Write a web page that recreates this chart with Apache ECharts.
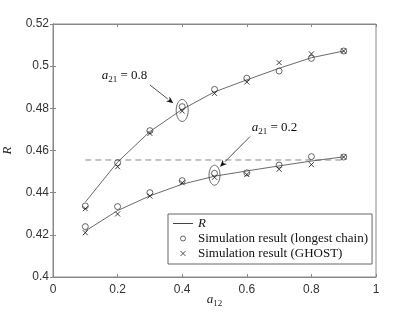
<!DOCTYPE html>
<html><head><meta charset="utf-8">
<script src="https://cdn.jsdelivr.net/npm/echarts@6/dist/echarts.min.js"></script>
<style>html,body{margin:0;padding:0;background:#fff}#c{width:415px;height:312px}</style>
</head><body><div id="c"></div>
<script>
const xVals = [0.1, 0.2, 0.3, 0.4, 0.5, 0.6, 0.7, 0.8, 0.9];
const rHigh = [0.4355, 0.4545, 0.4690, 0.4795, 0.4878, 0.4935, 0.4990, 0.5040, 0.5072];
const longestHigh = [0.4337, 0.4542, 0.4694, 0.4808, 0.4890, 0.4943, 0.4977, 0.5037, 0.5072];
const ghostHigh = [0.4324, 0.4523, 0.4681, 0.4787, 0.4871, 0.4925, 0.5017, 0.5058, 0.5072];
const rLow = [0.4218, 0.4315, 0.4385, 0.4440, 0.4478, 0.4503, 0.4527, 0.4550, 0.4570];
const longestLow = [0.4239, 0.4334, 0.4400, 0.4457, 0.4492, 0.4494, 0.4531, 0.4571, 0.4569];
const ghostLow = [0.4210, 0.4299, 0.4384, 0.4447, 0.4473, 0.4486, 0.4511, 0.4533, 0.4569];
const thresholdX = [0.1, 0.9];
const thresholdY = 0.4555;
const xTicks = { min: 0, max: 1, interval: 0.2 };
const yTicks = { min: 0.4, max: 0.52, interval: 0.02 };
const seriesNames = ['R', 'Simulation result (longest chain)', 'Simulation result (GHOST)'];
// annotations (data space): label, text left anchor, arrow start, arrow end, ellipse centre
const annLabels = ['0.8', '0.2'];
const annText = [[0.151, 0.4950], [0.615, 0.4705]];
const annArrowFrom = [[0.300, 0.4911], [0.610, 0.4666]];
const annArrowTo = [[0.3724, 0.4824], [0.517, 0.4523]];
const annEllipse = [[0.4, 0.4790], [0.5, 0.4483]];

const serif = '"Liberation Serif", "DejaVu Serif", serif';
const sans = '"Liberation Sans", Arial, sans-serif';
const pairs = (xs, ys) => xs.map((x, i) => [x, ys[i]]);
const crossPath = 'path://M0,0L10,10M10,0L0,10';

const chart = echarts.init(document.getElementById('c'), null, { renderer: 'canvas' });
const lineColor = '#444';
const markColor = '#111';

const option = {
  animation: false,
  backgroundColor: '#fff',
  grid: { left: 53, right: 39, top: 24, bottom: 35, containLabel: false, outerBoundsMode: 'none',
    show: true, borderColor: '#888', borderWidth: 1, backgroundColor: 'transparent' },
  legend: {
    data: [
      { name: seriesNames[0], icon: 'path://M0,0L20,0L20,1L0,1Z', itemStyle: { color: lineColor, borderWidth: 0 } },
      { name: seriesNames[1], itemStyle: { borderWidth: 0.8 } },
      { name: seriesNames[2], itemStyle: { borderWidth: 0.9 } }
    ],
    orient: 'vertical', left: 168, top: 214,
    padding: [2, 4, 3, 5], itemGap: 0, itemWidth: 20, itemHeight: 5,
    borderColor: '#666', borderWidth: 1, borderRadius: 0, backgroundColor: '#fff',
    selectedMode: false,
    formatter: n => n === 'R' ? '{i|R}' : n,
    textStyle: { fontFamily: serif, fontSize: 13, color: '#111', lineHeight: 15,
      rich: { i: { fontFamily: serif, fontSize: 13, fontStyle: 'italic', color: '#111', lineHeight: 15 } } }
  },
  xAxis: [{
    type: 'value', min: xTicks.min, max: xTicks.max, interval: xTicks.interval,
    name: '{a|a}{s|12}', nameLocation: 'middle', nameGap: 16, nameMoveOverlap: false,
    nameTextStyle: { rich: {
      a: { fontFamily: serif, fontStyle: 'italic', fontSize: 13, color: '#222', verticalAlign: 'top' },
      s: { fontFamily: serif, fontSize: 9, color: '#222', verticalAlign: 'top', padding: [6, 0, 0, 0] } } },
    axisLine: { show: true, onZero: false, lineStyle: { color: '#888' } },
    axisTick: { show: true, inside: true, length: 3, lineStyle: { color: '#888' } },
    axisLabel: { fontFamily: sans, fontSize: 12, color: '#333', margin: 7 },
    splitLine: { show: false }
  }, {
    type: 'value', position: 'top', min: xTicks.min, max: xTicks.max, interval: xTicks.interval,
    axisLine: { show: true, lineStyle: { color: '#888' } },
    axisTick: { show: true, inside: true, length: 3, lineStyle: { color: '#888' } },
    axisLabel: { show: false }, splitLine: { show: false }
  }],
  yAxis: [{
    type: 'value', min: yTicks.min, max: yTicks.max, interval: yTicks.interval,
    name: 'R', nameLocation: 'middle', nameGap: 39, nameRotate: 90, nameMoveOverlap: false,
    nameTextStyle: { fontFamily: serif, fontStyle: 'italic', fontSize: 13, color: '#222' },
    axisLine: { show: true, onZero: false, lineStyle: { color: '#888' } },
    axisTick: { show: true, inside: true, length: 3, lineStyle: { color: '#888' } },
    axisLabel: { fontFamily: sans, fontSize: 12, color: '#333', margin: 4 },
    splitLine: { show: false }
  }, {
    type: 'value', position: 'right', min: yTicks.min, max: yTicks.max, interval: yTicks.interval,
    axisLine: { show: true, lineStyle: { color: '#888' } },
    axisTick: { show: true, inside: true, length: 3, lineStyle: { color: '#888' } },
    axisLabel: { show: false }, splitLine: { show: false }
  }],
  series: [
    { name: 'threshold', type: 'line', data: pairs(thresholdX, [thresholdY, thresholdY]), symbol: 'none',
      lineStyle: { color: '#888', width: 1, type: [6, 4] }, z: 1 },
    { name: 'R', type: 'line', data: pairs(xVals, rHigh), symbol: 'none', lineStyle: { color: lineColor, width: 0.8 }, itemStyle: { color: lineColor } },
    { name: 'R', type: 'line', data: pairs(xVals, rLow), symbol: 'none', lineStyle: { color: lineColor, width: 0.8 }, itemStyle: { color: lineColor } },
    { name: seriesNames[1], type: 'scatter', data: pairs(xVals, longestHigh), symbol: 'circle', symbolSize: 6,
      itemStyle: { color: 'rgba(0,0,0,0)', borderColor: markColor, borderWidth: 0.8 } },
    { name: seriesNames[1], type: 'scatter', data: pairs(xVals, longestLow), symbol: 'circle', symbolSize: 6,
      itemStyle: { color: 'rgba(0,0,0,0)', borderColor: markColor, borderWidth: 0.8 } },
    { name: seriesNames[2], type: 'scatter', data: pairs(xVals, ghostHigh), symbol: crossPath, symbolSize: 5,
      itemStyle: { color: 'rgba(0,0,0,0)', borderColor: markColor, borderWidth: 1 } },
    { name: seriesNames[2], type: 'scatter', data: pairs(xVals, ghostLow), symbol: crossPath, symbolSize: 5,
      itemStyle: { color: 'rgba(0,0,0,0)', borderColor: markColor, borderWidth: 1 } }
  ]
};
chart.setOption(option);

function px(p) { return chart.convertToPixel({ gridIndex: 0 }, p); }
const graphics = [];
annLabels.forEach((lab, i) => {
  const t = px(annText[i]);
  graphics.push({ type: 'text', x: t[0], y: t[1], z: 10,
    style: { text: '{a|a}{s|21}{t| = ' + lab + '}', align: 'left', verticalAlign: 'middle',
      rich: {
        a: { fontFamily: serif, fontStyle: 'italic', fontSize: 13, fill: '#111', verticalAlign: 'top' },
        s: { fontFamily: serif, fontSize: 9, fill: '#111', verticalAlign: 'top', padding: [6, 0, 0, 0] },
        t: { fontFamily: serif, fontSize: 13, fill: '#111', verticalAlign: 'top' } } } });
  const a = px(annArrowFrom[i]), b = px(annArrowTo[i]);
  const dx = b[0] - a[0], dy = b[1] - a[1], L = Math.hypot(dx, dy);
  const ux = dx / L, uy = dy / L, hl = 7, hw = 3;
  const bx = b[0] - ux * hl, by = b[1] - uy * hl;
  graphics.push({ type: 'line', z: 10, shape: { x1: a[0], y1: a[1], x2: bx, y2: by }, style: { stroke: '#222', lineWidth: 0.8 } });
  graphics.push({ type: 'polygon', z: 10, shape: { points: [[b[0], b[1]], [bx - uy * hw, by + ux * hw], [bx + ux * 2, by + uy * 2], [bx + uy * hw, by - ux * hw]] }, style: { fill: '#111' } });
  const e = px(annEllipse[i]);
  graphics.push({ type: 'ellipse', z: 10, shape: { cx: e[0], cy: e[1], rx: i === 0 ? 6 : 5.5, ry: i === 0 ? 11 : 10 }, style: { fill: 'none', stroke: '#444', lineWidth: 0.8 } });
});
chart.setOption({ graphic: graphics });
</script></body></html>
